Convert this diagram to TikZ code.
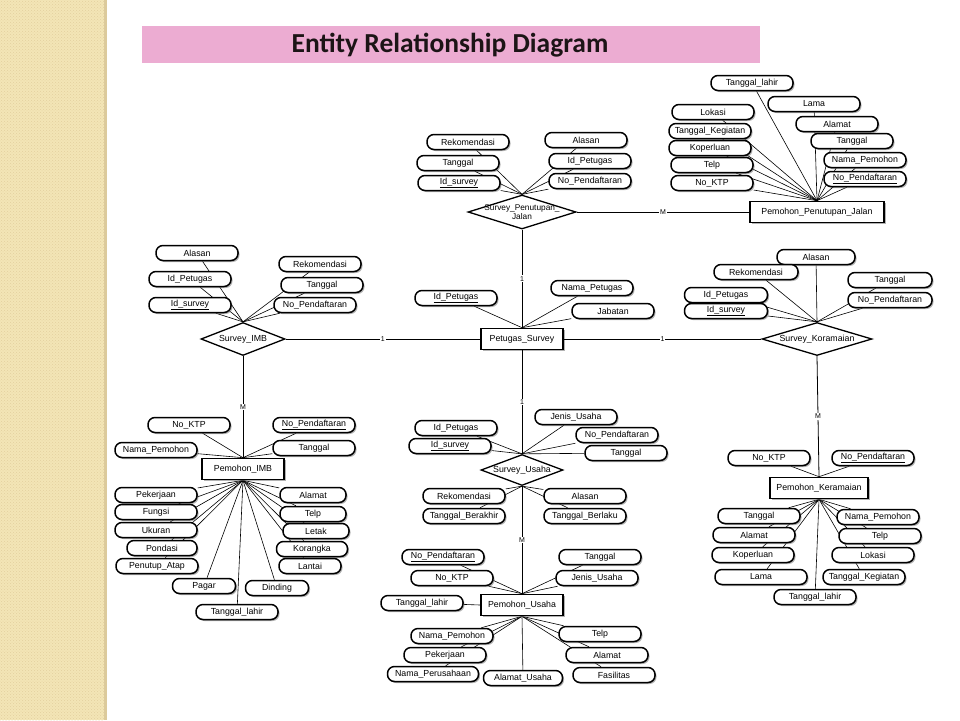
\documentclass[tikz,border=0pt]{standalone}
\usepackage{fontspec}
\setmainfont{Liberation Sans}
\newfontfamily\titlefont{Carlito}
\usetikzlibrary{shapes.geometric,shadows,patterns}
\definecolor{beige}{RGB}{243,229,182}
\definecolor{beigedot}{RGB}{226,208,158}
\definecolor{beigeedge}{RGB}{220,202,155}
\definecolor{titlepink}{RGB}{236,172,210}
\definecolor{titletext}{RGB}{28,20,22}
\pgfdeclarelayer{bg}
\pgfsetlayers{bg,main}
\begin{document}
\begin{tikzpicture}[x=1pt,y=-1pt,
  shd/.style={drop shadow={shadow xshift=1.5pt,shadow yshift=-1.5pt,fill=black!55,opacity=0.55}},
  attr/.style={draw,line width=1.5pt,rounded corners=7pt,minimum width=82pt,minimum height=15pt,
    inner sep=1pt,fill=white,font=\fontsize{8.8}{9}\selectfont,shd},
  entity/.style={draw,line width=1.6pt,minimum width=82pt,minimum height=21pt,inner sep=2pt,
    fill=white,font=\fontsize{8.8}{9}\selectfont,shd},
  rel/.style={diamond,draw,line width=1.3pt,fill=white,inner sep=0pt},
  reltext/.style={font=\fontsize{8.8}{9}\selectfont,inner sep=0pt,align=center},
  conn/.style={line width=0.6pt},
  rline/.style={line width=0.8pt},
  card/.style={fill=white,inner sep=0.8pt,font=\fontsize{7}{7}\selectfont}]
\useasboundingbox (0,0) rectangle (960,720);
\begin{pgfonlayer}{bg}
\fill[white] (0,0) rectangle (960,720);
\fill[beige] (0,0) rectangle (104,720);
\fill[pattern=crosshatch dots,pattern color=beigedot] (0,0) rectangle (104,720);
\fill[beigeedge] (104,0) rectangle (107,720);
\end{pgfonlayer}
% title
\node[fill=titlepink,minimum width=618pt,minimum height=37pt,anchor=north west,inner sep=0pt] (title) at (142,26) {};
\node[font=\titlefont\bfseries\fontsize{27.5}{27.5}\selectfont,text=titletext,inner sep=0pt] (titletxt) at (450,45.5) {Entity Relationship Diagram};

% ---------- Pemohon_Penutupan_Jalan ----------
\node[attr] (pj1) at (752,83) {Tanggal\_lahir};
\node[attr,minimum width=92pt] (pj2) at (814,104) {Lama};
\node[attr] (pj3) at (713,112) {Lokasi};
\node[attr] (pj4) at (837,124) {Alamat};
\node[attr] (pj5) at (710,131) {Tanggal\_Kegiatan};
\node[attr] (pj6) at (852,141) {Tanggal};
\node[attr] (pj7) at (710,148) {Koperluan};
\node[attr] (pj8) at (865,160) {Nama\_Pemohon};
\node[attr] (pj9) at (712,165) {Telp};
\node[attr] (pj10) at (865,179) {\underline{No\_Pendaftaran}};
\node[attr] (pj11) at (712,183) {No\_KTP};
\node[entity,minimum width=134pt] (ppj) at (817,212) {Pemohon\_Penutupan\_Jalan};

% ---------- Survey_Penutupan_Jalan ----------
\node[attr] (sp1) at (468,142) {Rekomendasi};
\node[attr] (sp2) at (586,140) {Alasan};
\node[attr] (sp3) at (458,163) {Tanggal};
\node[attr] (sp4) at (590,161) {Id\_Petugas};
\node[attr] (sp5) at (459,183) {\underline{Id\_survey}};
\node[attr] (sp6) at (590,181) {No\_Pendaftaran};
\node[rel,minimum width=108pt,minimum height=34pt] (spj) at (522,212) {};
\node[reltext,font=\fontsize{8.3}{8.8}\selectfont] (spjt) at (522,212) {Survey\_Penutupan\_\\Jalan};

% ---------- Petugas_Survey ----------
\node[attr] (pa1) at (456,298) {\underline{Id\_Petugas}};
\node[attr] (pa2) at (592,288) {Nama\_Petugas};
\node[attr] (pa3) at (613,311) {Jabatan};
\node[entity] (ps) at (522,339) {Petugas\_Survey};

% ---------- Survey_IMB ----------
\node[attr] (si1) at (197,253) {Alasan};
\node[attr] (si2) at (320,264) {Rekomendasi};
\node[attr] (si3) at (190,279) {Id\_Petugas};
\node[attr] (si4) at (322,285) {Tanggal};
\node[attr] (si5) at (190,305) {\underline{Id\_survey}};
\node[attr] (si6) at (315,305) {No\_Pendaftaran};
\node[rel,minimum width=84pt,minimum height=33pt] (simb) at (243,339) {};
\node[reltext] (simbt) at (243,339) {Survey\_IMB};

% ---------- Survey_Koramaian ----------
\node[attr,minimum width=78pt] (sk1) at (816,257) {Alasan};
\node[attr,minimum width=84pt] (sk2) at (756,272) {Rekomendasi};
\node[attr,minimum width=84pt] (sk3) at (890,280) {Tanggal};
\node[attr,minimum width=83pt] (sk4) at (726,295) {Id\_Petugas};
\node[attr,minimum width=84pt] (sk5) at (890,300) {No\_Pendaftaran};
\node[attr,minimum width=83pt] (sk6) at (726,311) {\underline{Id\_survey}};
\node[rel,minimum width=110pt,minimum height=33pt] (sk) at (817,339) {};
\node[reltext] (skt) at (817,339) {Survey\_Koramaian};

% ---------- Pemohon_IMB ----------
\node[attr] (pi1) at (189,425) {No\_KTP};
\node[attr] (pi2) at (314,425) {\underline{No\_Pendaftaran}};
\node[attr] (pi3) at (156,450) {Nama\_Pemohon};
\node[attr] (pi4) at (314,448) {Tanggal};
\node[entity] (pimb) at (243,469) {Pemohon\_IMB};
\node[attr] (pb1) at (156,495) {Pekerjaan};
\node[attr,minimum width=66pt] (pb2) at (313,495) {Alamat};
\node[attr] (pb3) at (156,512) {Fungsi};
\node[attr,minimum width=66pt] (pb4) at (313,514) {Telp};
\node[attr] (pb5) at (156,530) {Ukuran};
\node[attr,minimum width=66pt] (pb6) at (316,531) {Letak};
\node[attr,minimum width=70pt] (pb7) at (162,548) {Pondasi};
\node[attr,minimum width=71pt] (pb8) at (312,549) {Korangka};
\node[attr] (pb9) at (157,566) {Penutup\_Atap};
\node[attr,minimum width=62pt] (pb10) at (310,566) {Lantai};
\node[attr,minimum width=63pt] (pb11) at (204,586) {Pagar};
\node[attr,minimum width=63pt] (pb12) at (277,588) {Dinding};
\node[attr] (pb13) at (237,612) {Tanggal\_lahir};

% ---------- Survey_Usaha ----------
\node[attr] (su1) at (576,417) {Jenis\_Usaha};
\node[attr] (su2) at (456,428) {Id\_Petugas};
\node[attr] (su3) at (617,435) {No\_Pendaftaran};
\node[attr] (su4) at (450,446) {\underline{Id\_survey}};
\node[attr] (su5) at (626,453) {Tanggal};
\node[rel,minimum width=82pt,minimum height=31pt] (su) at (522,470) {};
\node[reltext] (sut) at (522,470) {Survey\_Usaha};
\node[attr] (sb1) at (464,496) {Rekomendasi};
\node[attr] (sb2) at (585,496) {Alasan};
\node[attr] (sb3) at (464,516) {Tanggal\_Berakhir};
\node[attr] (sb4) at (585,516) {Tanggal\_Berlaku};

% ---------- Pemohon_Usaha ----------
\node[attr] (pu1) at (443,557) {\underline{No\_Pendaftaran}};
\node[attr] (pu2) at (600,557) {Tanggal};
\node[attr] (pu3) at (452,578) {No\_KTP};
\node[attr] (pu4) at (597,578) {Jenis\_Usaha};
\node[attr] (pu5) at (422,603) {Tanggal\_lahir};
\node[entity] (pu) at (522,605) {Pemohon\_Usaha};
\node[attr] (pv1) at (452,636) {Nama\_Pemohon};
\node[attr] (pv2) at (600,634) {Telp};
\node[attr] (pv3) at (445,655) {Pekerjaan};
\node[attr] (pv4) at (607,655) {Alamat};
\node[attr,minimum width=91pt] (pv5) at (433,674) {Nama\_Perusahaan};
\node[attr,minimum width=79pt] (pv6) at (523,678) {Alamat\_Usaha};
\node[attr] (pv7) at (614,675) {Fasilitas};

% ---------- Pemohon_Keramaian ----------
\node[attr] (pk1) at (769,458) {No\_KTP};
\node[attr] (pk2) at (873,458) {\underline{No\_Pendaftaran}};
\node[entity,minimum width=98pt] (pk) at (819,488) {Pemohon\_Keramaian};
\node[attr] (pl1) at (759,516) {Tanggal};
\node[attr] (pl2) at (878,517) {Nama\_Pemohon};
\node[attr] (pl3) at (754,535) {Alamat};
\node[attr] (pl4) at (880,536) {Telp};
\node[attr] (pl5) at (753,555) {Koperluan};
\node[attr] (pl6) at (873,555) {Lokasi};
\node[attr,minimum width=92pt] (pl7) at (761,577) {Lama};
\node[attr] (pl8) at (864,577) {Tanggal\_Kegiatan};
\node[attr] (pl9) at (815,597) {Tanggal\_lahir};

% ---------- connectors ----------
\begin{pgfonlayer}{bg}
\foreach \i in {1,...,11} \draw[conn] (pj\i) -- (ppj.north);
\foreach \i in {1,...,6} \draw[conn] (sp\i) -- (spj.north);
\foreach \i in {1,...,3} \draw[conn] (pa\i) -- (ps.north);
\foreach \i in {1,...,6} \draw[conn] (si\i) -- (simb.north);
\foreach \i in {1,...,6} \draw[conn] (sk\i) -- (sk.north);
\foreach \i in {1,...,4} \draw[conn] (pi\i) -- (pimb.north);
\foreach \i in {1,...,13} \draw[conn] (pb\i) -- (pimb.south);
\foreach \i in {1,...,5} \draw[conn] (su\i) -- (su.north);
\foreach \i in {1,...,4} \draw[conn] (sb\i) -- (su.south);
\foreach \i in {1,...,4} \draw[conn] (pu\i) -- (pu.north);
\draw[conn] (pu5) -- (pu.west);
\foreach \i in {1,...,7} \draw[conn] (pv\i) -- (pu.south);
\foreach \i in {1,2} \draw[conn] (pk\i) -- (pk.north);
\foreach \i in {1,...,9} \draw[conn] (pl\i) -- (pk.south);
\end{pgfonlayer}
\draw[rline] (spj.east) -- node[card] (c1) {M} (ppj.west);
\draw[rline] (spj.south) -- node[card] (c2) {1} (ps.north);
\draw[rline] (simb.east) -- node[card] (c3) {1} (ps.west);
\draw[rline] (ps.east) -- node[card] (c4) {1} (sk.west);
\draw[rline] (simb.south) -- node[card] (c5) {M} (pimb.north);
\draw[rline] (sk.south) -- node[card] (c6) {M} (pk.north);
\draw[rline] (ps.south) -- node[card] (c7) {1} (su.north);
\draw[rline] (su.south) -- node[card] (c8) {M} (pu.north);
\end{tikzpicture}
\end{document}
